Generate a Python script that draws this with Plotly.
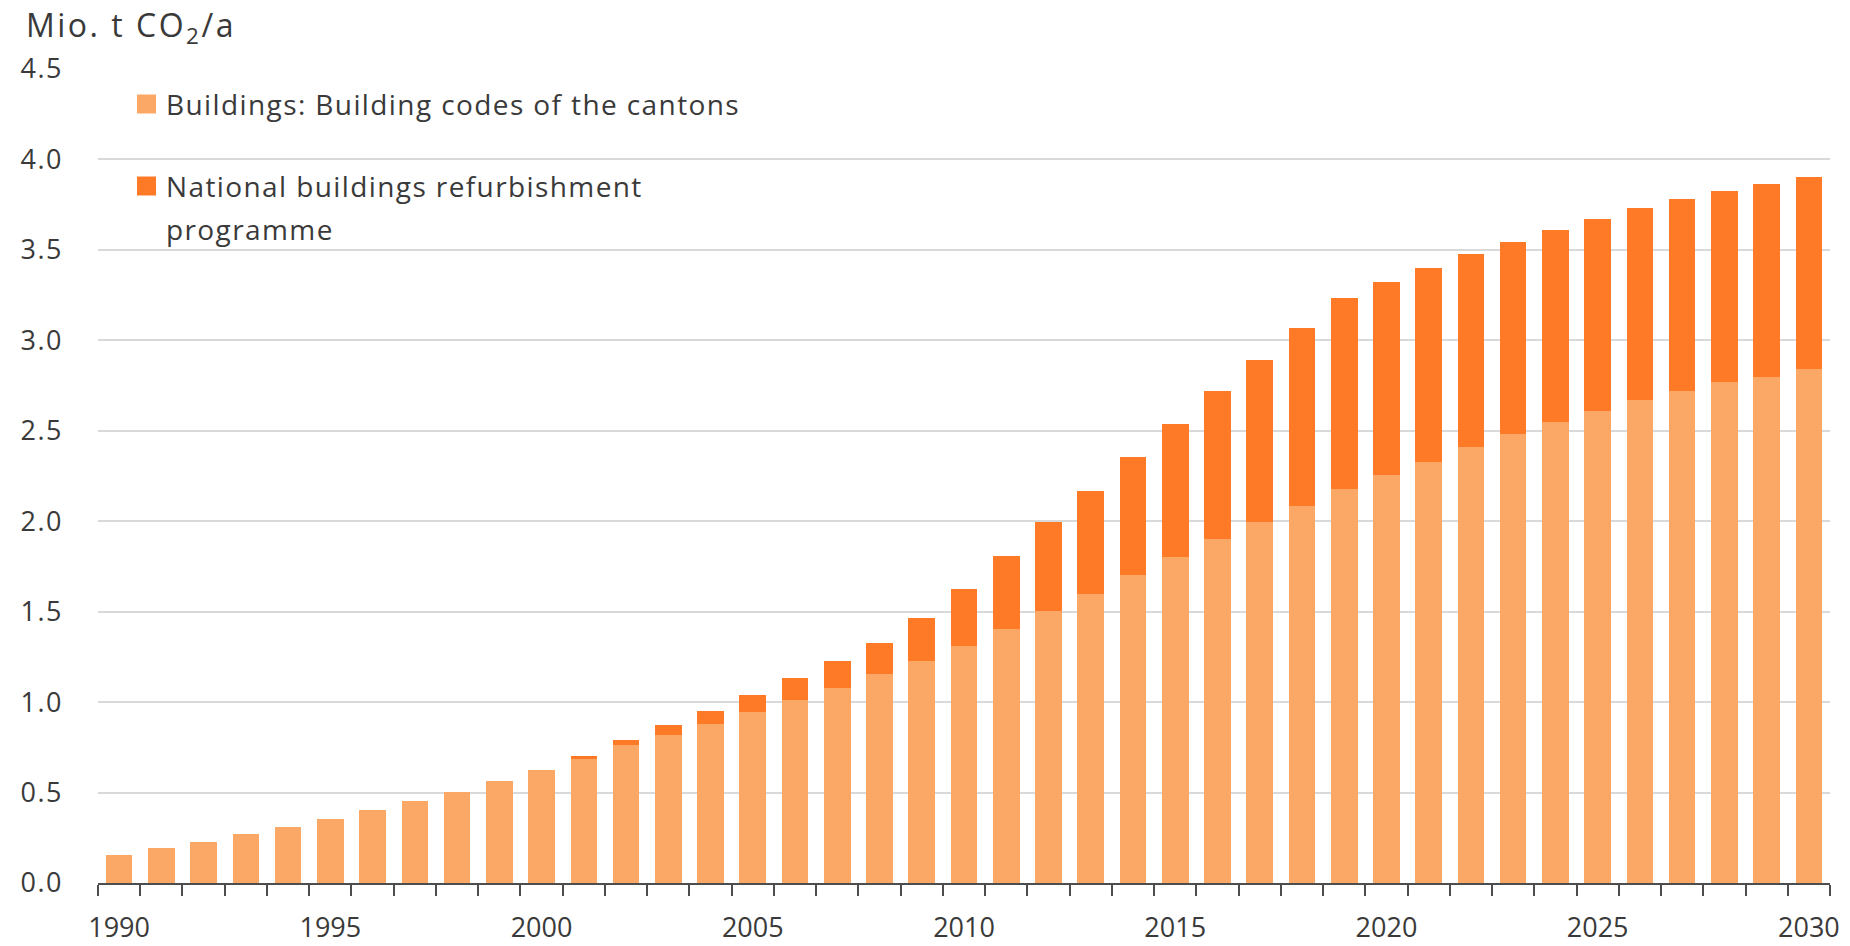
import plotly.graph_objects as go

# Years shown on the horizontal axis
years = list(range(1990, 2031))

# Emission reductions, Mio. t CO2 per year
cantons = [0.157, 0.191, 0.226, 0.269, 0.309, 0.356, 0.402, 0.454, 0.504, 0.563,
           0.624, 0.685, 0.763, 0.820, 0.877, 0.947, 1.011, 1.079, 1.153, 1.230,
           1.309, 1.404, 1.502, 1.599, 1.704, 1.805, 1.903, 1.998, 2.085, 2.180,
           2.255, 2.330, 2.410, 2.480, 2.550, 2.610, 2.670, 2.720, 2.770, 2.800,
           2.840]
programme = [0.0, 0.0, 0.0, 0.0, 0.0, 0.0, 0.0, 0.0, 0.0, 0.0,
             0.0, 0.015, 0.026, 0.056, 0.073, 0.092, 0.123, 0.147, 0.174, 0.235,
             0.318, 0.405, 0.491, 0.568, 0.653, 0.732, 0.816, 0.895, 0.983, 1.055,
             1.065, 1.070, 1.066, 1.065, 1.060, 1.060, 1.060, 1.060, 1.056, 1.066,
             1.065]

series_names = ["Buildings: Building codes of the cantons",
                "National buildings refurbishment programme"]
colors = ["#FBA766", "#FE7A27"]

x_ticks = list(range(1990, 2031, 5))
y_ticks = [0.0, 0.5, 1.0, 1.5, 2.0, 2.5, 3.0, 3.5, 4.0, 4.5]

FONT = "Open Sans"
TEXT = "#3a3a3a"

W, H = 1850, 946
ML, MR, MT, MB = 98, 20, 69, 63
PW, PH = W - ML - MR, H - MT - MB


def px(xp):
    return (xp - ML) / PW


def py(yp):
    return (H - MB - yp) / PH


def spaced(text, gap):
    """Wrap text in a span with extra letter spacing."""
    return f'<span style="letter-spacing:{gap}px">{text}</span>'


fig = go.Figure()
for vals, name, col in zip([cantons, programme], series_names, colors):
    fig.add_trace(go.Bar(x=years, y=vals, name=name, marker_color=col,
                         marker_line_width=0, width=0.63, showlegend=False))

fig.update_layout(
    width=W, height=H, barmode="stack",
    margin=dict(l=ML, r=MR, t=MT, b=MB),
    paper_bgcolor="white", plot_bgcolor="white",
    font=dict(family=FONT, size=27, color=TEXT),
)

fig.update_xaxes(
    range=[1989.5, 2030.5], tickmode="array", tickvals=x_ticks,
    ticktext=[str(v) for v in x_ticks], ticks="", ticklabelstandoff=20,
    automargin=False,
    showline=True, linecolor="#4d4d4d", linewidth=2, showgrid=False,
    tickfont=dict(family=FONT, size=27, color=TEXT),
    minor=dict(tickmode="array", tickvals=[1989.5 + i for i in range(42)],
               ticks="outside", ticklen=11, tickwidth=2, tickcolor="#4d4d4d",
               showgrid=False),
)
fig.update_yaxes(
    range=[0, 4.5], tickmode="array", tickvals=y_ticks,
    ticktext=[spaced(f"{v:.1f}", 1.5) for v in y_ticks], ticks="",
    ticklabelstandoff=34, automargin=False,
    showgrid=True, gridcolor="#d9d9d9", gridwidth=2, zeroline=False,
    tickfont=dict(family=FONT, size=27, color=TEXT),
)

# Unit label above the value axis
fig.add_annotation(text=spaced("Mio. t CO<sub>2</sub>/a", 2.5),
                   xref="paper", yref="paper",
                   x=px(24), y=py(27), xanchor="left", yanchor="middle",
                   showarrow=False, font=dict(family=FONT, size=32, color=TEXT))

# Legend: colour keys and labels
legend_rows = [(104, [series_names[0]]),
               (186, ["National buildings refurbishment", "programme"])]
for (yc, lines), col in zip(legend_rows, colors):
    fig.add_shape(type="rect", xref="paper", yref="paper",
                  x0=px(137), x1=px(156), y0=py(yc + 9.5), y1=py(yc - 9.5),
                  fillcolor=col, line_width=0)
    for i, line in enumerate(lines):
        fig.add_annotation(text=spaced(line, 1.4), xref="paper", yref="paper",
                           x=px(164), y=py(yc + i * 43), xanchor="left",
                           yanchor="middle", showarrow=False,
                           font=dict(family=FONT, size=28, color=TEXT))

fig.write_html("out.html")
